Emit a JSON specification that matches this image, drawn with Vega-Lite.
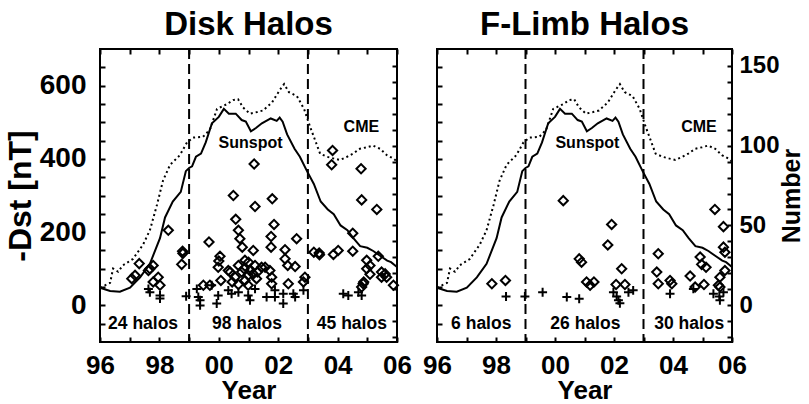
{
  "$schema": "https://vega.github.io/schema/vega-lite/v6.json",
  "background": "white",
  "padding": {"left": 3, "top": 8, "right": 0, "bottom": 0},
  "config": {
    "font": "Liberation Sans",
    "view": {"stroke": "black", "strokeWidth": 2},
    "axis": {"grid": false, "domain": false, "tickColor": "black", "tickWidth": 2, "tickSize": -5, "labelColor": "black", "titleColor": "black", "labelFont": "Liberation Sans", "titleFont": "Liberation Sans", "labelFontWeight": "bold", "titleFontWeight": "bold", "labelFontSize": 28, "titleFontSize": 26, "labelFlush": false, "labelOverlap": false},
    "title": {"fontSize": 33, "fontWeight": "bold", "color": "black", "font": "Liberation Sans", "offset": 6}
  },
  "datasets": {
    "pts": [
      {"panel": "D", "type": "d", "year": 1997.07, "dst": 73},
      {"panel": "D", "type": "d", "year": 1997.18, "dst": 82},
      {"panel": "D", "type": "d", "year": 1997.32, "dst": 114},
      {"panel": "D", "type": "d", "year": 1997.63, "dst": 95},
      {"panel": "D", "type": "d", "year": 1997.68, "dst": 100},
      {"panel": "D", "type": "d", "year": 1997.79, "dst": 109},
      {"panel": "D", "type": "d", "year": 1997.96, "dst": 77},
      {"panel": "D", "type": "d", "year": 1997.79, "dst": 64},
      {"panel": "D", "type": "d", "year": 1998.02, "dst": 55},
      {"panel": "D", "type": "d", "year": 1998.30, "dst": 205},
      {"panel": "D", "type": "d", "year": 1998.78, "dst": 148},
      {"panel": "D", "type": "d", "year": 1998.79, "dst": 142},
      {"panel": "D", "type": "d", "year": 1998.75, "dst": 112},
      {"panel": "D", "type": "d", "year": 1999.67, "dst": 173},
      {"panel": "D", "type": "d", "year": 1999.48, "dst": 55},
      {"panel": "D", "type": "d", "year": 1999.70, "dst": 55},
      {"panel": "D", "type": "d", "year": 1999.98, "dst": 104},
      {"panel": "D", "type": "d", "year": 2000.00, "dst": 121},
      {"panel": "D", "type": "d", "year": 2000.04, "dst": 134},
      {"panel": "D", "type": "d", "year": 2000.07, "dst": 68},
      {"panel": "D", "type": "d", "year": 2000.32, "dst": 95},
      {"panel": "D", "type": "d", "year": 2000.38, "dst": 91},
      {"panel": "D", "type": "d", "year": 2000.45, "dst": 64},
      {"panel": "D", "type": "d", "year": 2000.49, "dst": 300},
      {"panel": "D", "type": "d", "year": 2000.55, "dst": 77},
      {"panel": "D", "type": "d", "year": 2000.57, "dst": 235},
      {"panel": "D", "type": "d", "year": 2000.66, "dst": 205},
      {"panel": "D", "type": "d", "year": 2000.66, "dst": 109},
      {"panel": "D", "type": "d", "year": 2000.66, "dst": 57},
      {"panel": "D", "type": "d", "year": 2000.71, "dst": 182},
      {"panel": "D", "type": "d", "year": 2000.77, "dst": 91},
      {"panel": "D", "type": "d", "year": 2000.79, "dst": 159},
      {"panel": "D", "type": "d", "year": 2000.85, "dst": 100},
      {"panel": "D", "type": "d", "year": 2000.88, "dst": 123},
      {"panel": "D", "type": "d", "year": 2000.88, "dst": 68},
      {"panel": "D", "type": "d", "year": 2000.99, "dst": 82},
      {"panel": "D", "type": "d", "year": 2000.99, "dst": 55},
      {"panel": "D", "type": "d", "year": 2001.00, "dst": 118},
      {"panel": "D", "type": "d", "year": 2001.05, "dst": 95},
      {"panel": "D", "type": "d", "year": 2001.16, "dst": 150},
      {"panel": "D", "type": "d", "year": 2001.16, "dst": 86},
      {"panel": "D", "type": "d", "year": 2001.19, "dst": 386},
      {"panel": "D", "type": "d", "year": 2001.22, "dst": 270},
      {"panel": "D", "type": "d", "year": 2001.22, "dst": 109},
      {"panel": "D", "type": "d", "year": 2001.27, "dst": 73},
      {"panel": "D", "type": "d", "year": 2001.30, "dst": 91},
      {"panel": "D", "type": "d", "year": 2001.44, "dst": 104},
      {"panel": "D", "type": "d", "year": 2001.56, "dst": 104},
      {"panel": "D", "type": "d", "year": 2001.72, "dst": 95},
      {"panel": "D", "type": "d", "year": 2001.76, "dst": 188},
      {"panel": "D", "type": "d", "year": 2001.76, "dst": 159},
      {"panel": "D", "type": "d", "year": 2001.78, "dst": 77},
      {"panel": "D", "type": "d", "year": 2001.78, "dst": 59},
      {"panel": "D", "type": "d", "year": 2001.80, "dst": 291},
      {"panel": "D", "type": "d", "year": 2001.86, "dst": 221},
      {"panel": "D", "type": "d", "year": 2002.23, "dst": 152},
      {"panel": "D", "type": "d", "year": 2002.23, "dst": 127},
      {"panel": "D", "type": "d", "year": 2002.32, "dst": 109},
      {"panel": "D", "type": "d", "year": 2002.34, "dst": 59},
      {"panel": "D", "type": "d", "year": 2002.57, "dst": 106},
      {"panel": "D", "type": "d", "year": 2002.62, "dst": 182},
      {"panel": "D", "type": "d", "year": 2002.85, "dst": 64},
      {"panel": "D", "type": "d", "year": 2002.90, "dst": 77},
      {"panel": "D", "type": "d", "year": 2003.20, "dst": 145},
      {"panel": "D", "type": "d", "year": 2003.38, "dst": 143},
      {"panel": "D", "type": "d", "year": 2003.39, "dst": 138},
      {"panel": "D", "type": "d", "year": 2003.80, "dst": 384},
      {"panel": "D", "type": "d", "year": 2003.83, "dst": 423},
      {"panel": "D", "type": "d", "year": 2003.86, "dst": 139},
      {"panel": "D", "type": "d", "year": 2004.02, "dst": 150},
      {"panel": "D", "type": "d", "year": 2004.51, "dst": 197},
      {"panel": "D", "type": "d", "year": 2004.51, "dst": 148},
      {"panel": "D", "type": "d", "year": 2004.79, "dst": 373},
      {"panel": "D", "type": "d", "year": 2004.81, "dst": 288},
      {"panel": "D", "type": "d", "year": 2004.81, "dst": 50},
      {"panel": "D", "type": "d", "year": 2004.86, "dst": 59},
      {"panel": "D", "type": "d", "year": 2004.88, "dst": 64},
      {"panel": "D", "type": "d", "year": 2004.98, "dst": 123},
      {"panel": "D", "type": "d", "year": 2004.98, "dst": 100},
      {"panel": "D", "type": "d", "year": 2005.09, "dst": 109},
      {"panel": "D", "type": "d", "year": 2005.09, "dst": 85},
      {"panel": "D", "type": "d", "year": 2005.32, "dst": 262},
      {"panel": "D", "type": "d", "year": 2005.37, "dst": 134},
      {"panel": "D", "type": "d", "year": 2005.48, "dst": 91},
      {"panel": "D", "type": "d", "year": 2005.48, "dst": 77},
      {"panel": "D", "type": "d", "year": 2005.60, "dst": 86},
      {"panel": "D", "type": "d", "year": 2005.65, "dst": 77},
      {"panel": "D", "type": "d", "year": 2005.88, "dst": 55},
      {"panel": "D", "type": "p", "year": 1997.63, "dst": 45},
      {"panel": "D", "type": "p", "year": 1997.68, "dst": 36},
      {"panel": "D", "type": "p", "year": 1998.02, "dst": 27},
      {"panel": "D", "type": "p", "year": 1998.02, "dst": 19},
      {"panel": "D", "type": "p", "year": 1998.90, "dst": 25},
      {"panel": "D", "type": "p", "year": 1999.26, "dst": 45},
      {"panel": "D", "type": "p", "year": 1999.31, "dst": 23},
      {"panel": "D", "type": "p", "year": 1999.37, "dst": 14},
      {"panel": "D", "type": "p", "year": 1999.37, "dst": 0},
      {"panel": "D", "type": "p", "year": 1999.76, "dst": 55},
      {"panel": "D", "type": "p", "year": 1999.93, "dst": 5},
      {"panel": "D", "type": "p", "year": 1999.98, "dst": 27},
      {"panel": "D", "type": "p", "year": 2000.32, "dst": 41},
      {"panel": "D", "type": "p", "year": 2000.43, "dst": 32},
      {"panel": "D", "type": "p", "year": 2000.66, "dst": 36},
      {"panel": "D", "type": "p", "year": 2000.99, "dst": 27},
      {"panel": "D", "type": "p", "year": 2001.05, "dst": 14},
      {"panel": "D", "type": "p", "year": 2001.22, "dst": 45},
      {"panel": "D", "type": "p", "year": 2001.61, "dst": 23},
      {"panel": "D", "type": "p", "year": 2001.89, "dst": 41},
      {"panel": "D", "type": "p", "year": 2001.89, "dst": 23},
      {"panel": "D", "type": "p", "year": 2002.17, "dst": 5},
      {"panel": "D", "type": "p", "year": 2002.17, "dst": 32},
      {"panel": "D", "type": "p", "year": 2002.51, "dst": 32},
      {"panel": "D", "type": "p", "year": 2002.57, "dst": 23},
      {"panel": "D", "type": "p", "year": 2002.85, "dst": 41},
      {"panel": "D", "type": "p", "year": 2004.19, "dst": 32},
      {"panel": "D", "type": "p", "year": 2004.36, "dst": 27},
      {"panel": "D", "type": "p", "year": 2004.70, "dst": 36},
      {"panel": "D", "type": "p", "year": 2004.81, "dst": 27},
      {"panel": "F", "type": "d", "year": 1997.86, "dst": 59},
      {"panel": "F", "type": "d", "year": 1998.32, "dst": 68},
      {"panel": "F", "type": "d", "year": 2000.28, "dst": 286},
      {"panel": "F", "type": "d", "year": 2000.82, "dst": 127},
      {"panel": "F", "type": "d", "year": 2000.90, "dst": 118},
      {"panel": "F", "type": "d", "year": 2001.07, "dst": 64},
      {"panel": "F", "type": "d", "year": 2001.19, "dst": 55},
      {"panel": "F", "type": "d", "year": 2001.32, "dst": 64},
      {"panel": "F", "type": "d", "year": 2001.79, "dst": 165},
      {"panel": "F", "type": "d", "year": 2001.92, "dst": 221},
      {"panel": "F", "type": "d", "year": 2002.07, "dst": 57},
      {"panel": "F", "type": "d", "year": 2002.26, "dst": 100},
      {"panel": "F", "type": "d", "year": 2002.37, "dst": 57},
      {"panel": "F", "type": "d", "year": 2003.45, "dst": 91},
      {"panel": "F", "type": "d", "year": 2003.50, "dst": 141},
      {"panel": "F", "type": "d", "year": 2003.50, "dst": 59},
      {"panel": "F", "type": "d", "year": 2003.90, "dst": 68},
      {"panel": "F", "type": "d", "year": 2003.96, "dst": 59},
      {"panel": "F", "type": "d", "year": 2004.58, "dst": 80},
      {"panel": "F", "type": "d", "year": 2004.75, "dst": 50},
      {"panel": "F", "type": "d", "year": 2004.92, "dst": 132},
      {"panel": "F", "type": "d", "year": 2004.97, "dst": 112},
      {"panel": "F", "type": "d", "year": 2005.05, "dst": 57},
      {"panel": "F", "type": "d", "year": 2005.12, "dst": 104},
      {"panel": "F", "type": "d", "year": 2005.42, "dst": 262},
      {"panel": "F", "type": "d", "year": 2005.54, "dst": 55},
      {"panel": "F", "type": "d", "year": 2005.59, "dst": 77},
      {"panel": "F", "type": "d", "year": 2005.59, "dst": 50},
      {"panel": "F", "type": "d", "year": 2005.71, "dst": 215},
      {"panel": "F", "type": "d", "year": 2005.71, "dst": 159},
      {"panel": "F", "type": "d", "year": 2005.76, "dst": 145},
      {"panel": "F", "type": "d", "year": 2005.76, "dst": 95},
      {"panel": "F", "type": "p", "year": 1998.34, "dst": 24},
      {"panel": "F", "type": "p", "year": 1998.98, "dst": 24},
      {"panel": "F", "type": "p", "year": 1999.58, "dst": 36},
      {"panel": "F", "type": "p", "year": 2000.40, "dst": 23},
      {"panel": "F", "type": "p", "year": 2000.82, "dst": 18},
      {"panel": "F", "type": "p", "year": 2001.98, "dst": 36},
      {"panel": "F", "type": "p", "year": 2002.09, "dst": 24},
      {"panel": "F", "type": "p", "year": 2002.15, "dst": 14},
      {"panel": "F", "type": "p", "year": 2002.20, "dst": 6},
      {"panel": "F", "type": "p", "year": 2002.49, "dst": 36},
      {"panel": "F", "type": "p", "year": 2002.65, "dst": 41},
      {"panel": "F", "type": "p", "year": 2003.90, "dst": 32},
      {"panel": "F", "type": "p", "year": 2004.69, "dst": 45},
      {"panel": "F", "type": "p", "year": 2005.37, "dst": 32},
      {"panel": "F", "type": "p", "year": 2005.57, "dst": 24},
      {"panel": "F", "type": "p", "year": 2005.59, "dst": 14},
      {"panel": "F", "type": "p", "year": 2005.71, "dst": 36}
    ],
    "lines": [
      {"series": "sun", "year": 1996.00, "value": 11},
      {"series": "sun", "year": 1996.34, "value": 9},
      {"series": "sun", "year": 1996.67, "value": 8.5},
      {"series": "sun", "year": 1997.01, "value": 11},
      {"series": "sun", "year": 1997.35, "value": 17.5},
      {"series": "sun", "year": 1997.68, "value": 26},
      {"series": "sun", "year": 1998.02, "value": 42},
      {"series": "sun", "year": 1998.19, "value": 55},
      {"series": "sun", "year": 1998.45, "value": 65},
      {"series": "sun", "year": 1998.72, "value": 71},
      {"series": "sun", "year": 1998.89, "value": 84},
      {"series": "sun", "year": 1999.00, "value": 86},
      {"series": "sun", "year": 1999.10, "value": 87},
      {"series": "sun", "year": 1999.23, "value": 93},
      {"series": "sun", "year": 1999.40, "value": 95},
      {"series": "sun", "year": 1999.56, "value": 102},
      {"series": "sun", "year": 1999.77, "value": 114},
      {"series": "sun", "year": 2000.00, "value": 118},
      {"series": "sun", "year": 2000.17, "value": 123},
      {"series": "sun", "year": 2000.34, "value": 120},
      {"series": "sun", "year": 2000.57, "value": 120},
      {"series": "sun", "year": 2000.77, "value": 116},
      {"series": "sun", "year": 2000.91, "value": 115},
      {"series": "sun", "year": 2001.08, "value": 109},
      {"series": "sun", "year": 2001.25, "value": 111},
      {"series": "sun", "year": 2001.45, "value": 114},
      {"series": "sun", "year": 2001.75, "value": 117},
      {"series": "sun", "year": 2001.95, "value": 115.5},
      {"series": "sun", "year": 2002.05, "value": 117.5},
      {"series": "sun", "year": 2002.15, "value": 115},
      {"series": "sun", "year": 2002.30, "value": 107},
      {"series": "sun", "year": 2002.55, "value": 98},
      {"series": "sun", "year": 2002.73, "value": 93},
      {"series": "sun", "year": 2002.97, "value": 84},
      {"series": "sun", "year": 2003.20, "value": 76},
      {"series": "sun", "year": 2003.43, "value": 65},
      {"series": "sun", "year": 2003.67, "value": 60},
      {"series": "sun", "year": 2003.87, "value": 57},
      {"series": "sun", "year": 2004.10, "value": 50},
      {"series": "sun", "year": 2004.33, "value": 47},
      {"series": "sun", "year": 2004.53, "value": 42},
      {"series": "sun", "year": 2004.76, "value": 37},
      {"series": "sun", "year": 2005.00, "value": 36},
      {"series": "sun", "year": 2005.20, "value": 34},
      {"series": "sun", "year": 2005.43, "value": 31},
      {"series": "sun", "year": 2005.67, "value": 28},
      {"series": "sun", "year": 2005.80, "value": 27},
      {"series": "sun", "year": 2006.00, "value": 24},
      {"series": "cme", "year": 1996.00, "value": 11},
      {"series": "cme", "year": 1996.34, "value": 14},
      {"series": "cme", "year": 1996.44, "value": 23},
      {"series": "cme", "year": 1996.61, "value": 21},
      {"series": "cme", "year": 1996.77, "value": 25},
      {"series": "cme", "year": 1997.11, "value": 29},
      {"series": "cme", "year": 1997.45, "value": 38},
      {"series": "cme", "year": 1997.68, "value": 47},
      {"series": "cme", "year": 1997.92, "value": 63},
      {"series": "cme", "year": 1998.12, "value": 78},
      {"series": "cme", "year": 1998.36, "value": 88},
      {"series": "cme", "year": 1998.69, "value": 94},
      {"series": "cme", "year": 1998.93, "value": 102},
      {"series": "cme", "year": 1999.13, "value": 105},
      {"series": "cme", "year": 1999.47, "value": 105.5},
      {"series": "cme", "year": 1999.70, "value": 110},
      {"series": "cme", "year": 1999.94, "value": 123},
      {"series": "cme", "year": 2000.28, "value": 126},
      {"series": "cme", "year": 2000.48, "value": 128.5},
      {"series": "cme", "year": 2000.65, "value": 129},
      {"series": "cme", "year": 2000.81, "value": 124},
      {"series": "cme", "year": 2001.05, "value": 120},
      {"series": "cme", "year": 2001.29, "value": 121},
      {"series": "cme", "year": 2001.49, "value": 122},
      {"series": "cme", "year": 2001.79, "value": 127},
      {"series": "cme", "year": 2002.06, "value": 135},
      {"series": "cme", "year": 2002.20, "value": 138.5},
      {"series": "cme", "year": 2002.36, "value": 133.5},
      {"series": "cme", "year": 2002.63, "value": 131},
      {"series": "cme", "year": 2002.87, "value": 123},
      {"series": "cme", "year": 2003.07, "value": 112},
      {"series": "cme", "year": 2003.27, "value": 102},
      {"series": "cme", "year": 2003.41, "value": 95},
      {"series": "cme", "year": 2003.64, "value": 93},
      {"series": "cme", "year": 2003.85, "value": 92},
      {"series": "cme", "year": 2004.08, "value": 91},
      {"series": "cme", "year": 2004.32, "value": 93},
      {"series": "cme", "year": 2004.52, "value": 95},
      {"series": "cme", "year": 2004.75, "value": 98},
      {"series": "cme", "year": 2004.99, "value": 99},
      {"series": "cme", "year": 2005.19, "value": 100},
      {"series": "cme", "year": 2005.43, "value": 98},
      {"series": "cme", "year": 2005.66, "value": 94},
      {"series": "cme", "year": 2005.87, "value": 92},
      {"series": "cme", "year": 2006.00, "value": 90}
    ]
  },
  "bounds": "flush",
  "spacing": 40,
  "hconcat": [
    {
      "width": 297,
      "height": 293,
      "title": "Disk Halos",
      "resolve": {"scale": {"x": "independent", "y": "independent"}, "axis": {"x": "independent", "y": "independent"}},
      "layer": [
        {
          "data": {"name": "pts"},
          "transform": [{"filter": "datum.panel == 'D' && datum.type == 'd'"}],
          "mark": {"type": "point", "shape": "diamond", "filled": false, "stroke": "black", "strokeWidth": 2, "size": 85, "opacity": 1},
          "encoding": {
            "x": {"field": "year", "type": "quantitative", "scale": {"domain": [1996, 2006], "nice": false, "zero": false},
              "axis": {"orient": "bottom", "values": [1996, 1997, 1998, 1999, 2000, 2001, 2002, 2003, 2004, 2005, 2006], "format": "d", "labelExpr": "datum.value % 2 == 0 ? slice(datum.label, 2) : ''", "labelFontSize": 26, "labelPadding": 15, "title": "Year", "titlePadding": -1}},
            "y": {"field": "dst", "type": "quantitative", "scale": {"domain": [-100, 700], "nice": false, "zero": false},
              "axis": {"orient": "left", "values": [-50, 0, 50, 100, 150, 200, 250, 300, 350, 400, 450, 500, 550, 600, 650], "labelExpr": "datum.value % 200 == 0 ? datum.label : ''", "labelPadding": 19, "title": "-Dst [nT]", "titleFontSize": 32, "titlePadding": 2}}
          }
        },
        {
          "data": {"name": "pts"},
          "transform": [{"filter": "datum.panel == 'D' && datum.type == 'p'"}],
          "mark": {"type": "point", "shape": "M-1,0H1M0,-1V1", "filled": false, "stroke": "black", "strokeWidth": 2, "size": 80, "opacity": 1},
          "encoding": {
            "x": {"field": "year", "type": "quantitative", "scale": {"domain": [1996, 2006], "nice": false, "zero": false}, "axis": null},
            "y": {"field": "dst", "type": "quantitative", "scale": {"domain": [-100, 700], "nice": false, "zero": false}, "axis": null}
          }
        },
        {
          "data": {"name": "lines"},
          "transform": [{"filter": "datum.series == 'sun'"}],
          "mark": {"type": "line", "stroke": "black", "strokeWidth": 2},
          "encoding": {
            "x": {"field": "year", "type": "quantitative", "scale": {"domain": [1996, 2006], "nice": false, "zero": false},
              "axis": {"orient": "top", "values": [1996, 1997, 1998, 1999, 2000, 2001, 2002, 2003, 2004, 2005, 2006], "labels": false, "title": null, "minExtent": 0}},
            "y": {"field": "value", "type": "quantitative", "scale": {"domain": [-23, 160.5], "nice": false, "zero": false},
              "axis": {"orient": "right", "values": [-20, -10, 0, 10, 20, 30, 40, 50, 60, 70, 80, 90, 100, 110, 120, 130, 140, 150], "labels": false, "title": null, "minExtent": 0}}
          }
        },
        {
          "data": {"name": "lines"},
          "transform": [{"filter": "datum.series == 'cme'"}],
          "mark": {"type": "line", "stroke": "black", "strokeWidth": 2, "strokeDash": [2, 3]},
          "encoding": {
            "x": {"field": "year", "type": "quantitative", "scale": {"domain": [1996, 2006], "nice": false, "zero": false}, "axis": null},
            "y": {"field": "value", "type": "quantitative", "scale": {"domain": [-23, 160.5], "nice": false, "zero": false}, "axis": null}
          }
        },
        {
          "data": {"values": [{"year": 1999}, {"year": 2003}]},
          "mark": {"type": "rule", "stroke": "black", "strokeWidth": 2, "strokeDash": [10, 5]},
          "encoding": {
            "x": {"field": "year", "type": "quantitative", "scale": {"domain": [1996, 2006], "nice": false, "zero": false}, "axis": null}
          }
        },
        {
          "data": {"values": [{"label": "24 halos", "year": 1997.45, "dst": -50}, {"label": "98 halos", "year": 2000.95, "dst": -50}, {"label": "45 halos", "year": 2004.48, "dst": -50}]},
          "mark": {"type": "text", "font": "Liberation Sans", "fontWeight": "bold", "fontSize": 17.5, "color": "black", "align": "center", "baseline": "middle"},
          "encoding": {
            "x": {"field": "year", "type": "quantitative", "scale": {"domain": [1996, 2006], "nice": false, "zero": false}, "axis": null},
            "y": {"field": "dst", "type": "quantitative", "scale": {"domain": [-100, 700], "nice": false, "zero": false}, "axis": null},
            "text": {"field": "label"}
          }
        },
        {
          "data": {"values": [{"label": "Sunspot", "year": 2001.07, "dst": 444}, {"label": "CME", "year": 2004.8, "dst": 488}]},
          "mark": {"type": "text", "font": "Liberation Sans", "fontWeight": "bold", "fontSize": 16, "color": "black", "align": "center", "baseline": "middle"},
          "encoding": {
            "x": {"field": "year", "type": "quantitative", "scale": {"domain": [1996, 2006], "nice": false, "zero": false}, "axis": null},
            "y": {"field": "dst", "type": "quantitative", "scale": {"domain": [-100, 700], "nice": false, "zero": false}, "axis": null},
            "text": {"field": "label"}
          }
        }
      ]
    },
    {
      "width": 295,
      "height": 293,
      "title": "F-Limb Halos",
      "resolve": {"scale": {"x": "independent", "y": "independent"}, "axis": {"x": "independent", "y": "independent"}},
      "layer": [
        {
          "data": {"name": "pts"},
          "transform": [{"filter": "datum.panel == 'F' && datum.type == 'd'"}],
          "mark": {"type": "point", "shape": "diamond", "filled": false, "stroke": "black", "strokeWidth": 2, "size": 85, "opacity": 1},
          "encoding": {
            "x": {"field": "year", "type": "quantitative", "scale": {"domain": [1996, 2006], "nice": false, "zero": false},
              "axis": {"orient": "bottom", "values": [1996, 1997, 1998, 1999, 2000, 2001, 2002, 2003, 2004, 2005, 2006], "format": "d", "labelExpr": "datum.value % 2 == 0 ? slice(datum.label, 2) : ''", "labelFontSize": 26, "labelPadding": 15, "title": "Year", "titlePadding": -1}},
            "y": {"field": "dst", "type": "quantitative", "scale": {"domain": [-100, 700], "nice": false, "zero": false},
              "axis": {"orient": "left", "values": [-50, 0, 50, 100, 150, 200, 250, 300, 350, 400, 450, 500, 550, 600, 650], "labels": false, "title": null, "minExtent": 0}}
          }
        },
        {
          "data": {"name": "pts"},
          "transform": [{"filter": "datum.panel == 'F' && datum.type == 'p'"}],
          "mark": {"type": "point", "shape": "M-1,0H1M0,-1V1", "filled": false, "stroke": "black", "strokeWidth": 2, "size": 80, "opacity": 1},
          "encoding": {
            "x": {"field": "year", "type": "quantitative", "scale": {"domain": [1996, 2006], "nice": false, "zero": false}, "axis": null},
            "y": {"field": "dst", "type": "quantitative", "scale": {"domain": [-100, 700], "nice": false, "zero": false}, "axis": null}
          }
        },
        {
          "data": {"name": "lines"},
          "transform": [{"filter": "datum.series == 'sun'"}],
          "mark": {"type": "line", "stroke": "black", "strokeWidth": 2},
          "encoding": {
            "x": {"field": "year", "type": "quantitative", "scale": {"domain": [1996, 2006], "nice": false, "zero": false},
              "axis": {"orient": "top", "values": [1996, 1997, 1998, 1999, 2000, 2001, 2002, 2003, 2004, 2005, 2006], "labels": false, "title": null, "minExtent": 0}},
            "y": {"field": "value", "type": "quantitative", "scale": {"domain": [-23, 160.5], "nice": false, "zero": false},
              "axis": {"orient": "right", "values": [-20, -10, 0, 10, 20, 30, 40, 50, 60, 70, 80, 90, 100, 110, 120, 130, 140, 150], "labelExpr": "datum.value % 50 == 0 ? datum.label : ''", "labelPadding": 12, "labelFontSize": 24, "title": "Number", "titleFontSize": 25, "titleAngle": -90, "titleBaseline": "top", "titlePadding": 0}}
          }
        },
        {
          "data": {"name": "lines"},
          "transform": [{"filter": "datum.series == 'cme'"}],
          "mark": {"type": "line", "stroke": "black", "strokeWidth": 2, "strokeDash": [2, 3]},
          "encoding": {
            "x": {"field": "year", "type": "quantitative", "scale": {"domain": [1996, 2006], "nice": false, "zero": false}, "axis": null},
            "y": {"field": "value", "type": "quantitative", "scale": {"domain": [-23, 160.5], "nice": false, "zero": false}, "axis": null}
          }
        },
        {
          "data": {"values": [{"year": 1999}, {"year": 2003}]},
          "mark": {"type": "rule", "stroke": "black", "strokeWidth": 2, "strokeDash": [10, 5]},
          "encoding": {
            "x": {"field": "year", "type": "quantitative", "scale": {"domain": [1996, 2006], "nice": false, "zero": false}, "axis": null}
          }
        },
        {
          "data": {"values": [{"label": "6 halos", "year": 1997.5, "dst": -50}, {"label": "26 halos", "year": 2001.03, "dst": -50}, {"label": "30 halos", "year": 2004.55, "dst": -50}]},
          "mark": {"type": "text", "font": "Liberation Sans", "fontWeight": "bold", "fontSize": 17.5, "color": "black", "align": "center", "baseline": "middle"},
          "encoding": {
            "x": {"field": "year", "type": "quantitative", "scale": {"domain": [1996, 2006], "nice": false, "zero": false}, "axis": null},
            "y": {"field": "dst", "type": "quantitative", "scale": {"domain": [-100, 700], "nice": false, "zero": false}, "axis": null},
            "text": {"field": "label"}
          }
        },
        {
          "data": {"values": [{"label": "Sunspot", "year": 2001.1, "dst": 444}, {"label": "CME", "year": 2004.88, "dst": 488}]},
          "mark": {"type": "text", "font": "Liberation Sans", "fontWeight": "bold", "fontSize": 16, "color": "black", "align": "center", "baseline": "middle"},
          "encoding": {
            "x": {"field": "year", "type": "quantitative", "scale": {"domain": [1996, 2006], "nice": false, "zero": false}, "axis": null},
            "y": {"field": "dst", "type": "quantitative", "scale": {"domain": [-100, 700], "nice": false, "zero": false}, "axis": null},
            "text": {"field": "label"}
          }
        }
      ]
    }
  ]
}
